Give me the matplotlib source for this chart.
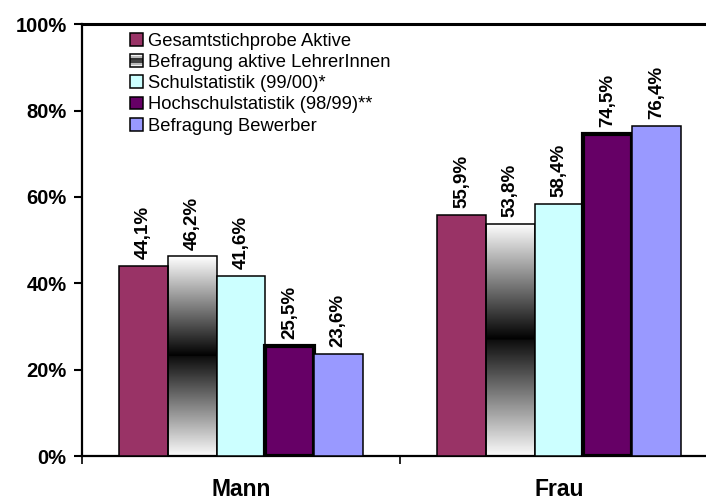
import numpy as np
import matplotlib.pyplot as plt
from matplotlib.patches import Rectangle, Patch
from matplotlib.legend_handler import HandlerBase

plt.rcParams['font.family'] = ['Liberation Sans', 'DejaVu Sans']

categories = ['Mann', 'Frau']
series = ['Gesamtstichprobe Aktive', 'Befragung aktive LehrerInnen',
          'Schulstatistik (99/00)*', 'Hochschulstatistik (98/99)**',
          'Befragung Bewerber']
values = [
    [44.1, 55.9],
    [46.2, 53.8],
    [41.6, 58.4],
    [25.5, 74.5],
    [23.6, 76.4],
]
colors = ['#993366', 'gradient', '#CCFFFF', '#660066', '#9999FF']
edge_widths = [1.1, 1.1, 1.1, 3.0, 1.1]


class GradientHandler(HandlerBase):
    def create_artists(self, legend, orig_handle, xdescent, ydescent,
                       width, height, fontsize, trans):
        shades = ['#f5f5f5', '#bbbbbb', '#333333', '#444444', '#bbbbbb', '#f0f0f0']
        n = len(shades)
        arts = []
        for k, c in enumerate(shades):
            r = Rectangle((-xdescent, -ydescent + height * (n - 1 - k) / n),
                          width, height / n, facecolor=c, edgecolor='none',
                          transform=trans)
            arts.append(r)
        arts.append(Rectangle((-xdescent, -ydescent), width, height,
                              facecolor='none', edgecolor='black', lw=1.1,
                              transform=trans))
        return arts


fig = plt.figure(figsize=(7.06, 5.01), dpi=100)
ax = fig.add_axes([0.116, 0.0898, 0.901, 0.862])

x = np.arange(len(categories))
width = 0.153

# gradient for the second series: white top, black middle, light bottom
t = np.linspace(0, 1, 256)
grad = np.where(t < 0.5, 0.93 * (1 - t / 0.5) + 0.05, (t - 0.5) / 0.5)
grad = np.clip(grad, 0, 1)[:, None]

for j, (name, vals) in enumerate(zip(series, values)):
    pos = x + (j - 2) * width
    if colors[j] == 'gradient':
        bars = ax.bar(pos, vals, width, facecolor='none', edgecolor='black',
                      linewidth=edge_widths[j], zorder=3)
        for b in bars:
            im = ax.imshow(grad, cmap='gray', vmin=0, vmax=1, aspect='auto',
                           origin='lower', interpolation='bilinear',
                           extent=[b.get_x(), b.get_x() + b.get_width(),
                                   0, b.get_height()], zorder=2)
            im.set_clip_path(b)
    else:
        bars = ax.bar(pos, vals, width, color=colors[j], edgecolor='black',
                      linewidth=edge_widths[j], zorder=3)
    for b, v in zip(bars, vals):
        ax.annotate(f'{v:.1f}%'.replace('.', ','),
                    (b.get_x() + b.get_width() / 2, v),
                    xytext=(0, 5), textcoords='offset points',
                    rotation=90, ha='center', va='bottom',
                    fontsize=13.5, fontweight='bold')

ax.set_xlim(-0.5, 1.5)
ax.set_ylim(0, 100)

ax.set_yticks(np.arange(0, 101, 20))
ax.set_yticklabels([f'{v}%' for v in range(0, 101, 20)],
                   fontsize=14.5, fontweight='bold')
ax.tick_params(axis='y', length=6, width=1.5, pad=5)

ax.set_xticks([-0.5, 0.5, 1.5])
ax.set_xticklabels([])
ax.tick_params(axis='x', which='major', length=6, width=1.2)
ax.set_xticks(x, minor=True)
ax.set_xticklabels(categories, minor=True, fontsize=16.5, fontweight='bold')
ax.tick_params(axis='x', which='minor', length=0, pad=16)

for s in ['left', 'bottom']:
    ax.spines[s].set_linewidth(1.6)
ax.spines['top'].set_linewidth(2.2)
ax.spines['right'].set_visible(False)

handles = []
for j in range(len(series)):
    fc = 'white' if colors[j] == 'gradient' else colors[j]
    handles.append(Patch(facecolor=fc, edgecolor='black', linewidth=1.1))

ax.legend(handles, series, loc='upper left', bbox_to_anchor=(0.06, 1.004),
          frameon=False, fontsize=13.2, handlelength=0.7, handleheight=0.7,
          handletextpad=0.25, labelspacing=0.235, borderaxespad=0.15,
          handler_map={handles[1]: GradientHandler()})

plt.savefig('out.png', dpi=100)
